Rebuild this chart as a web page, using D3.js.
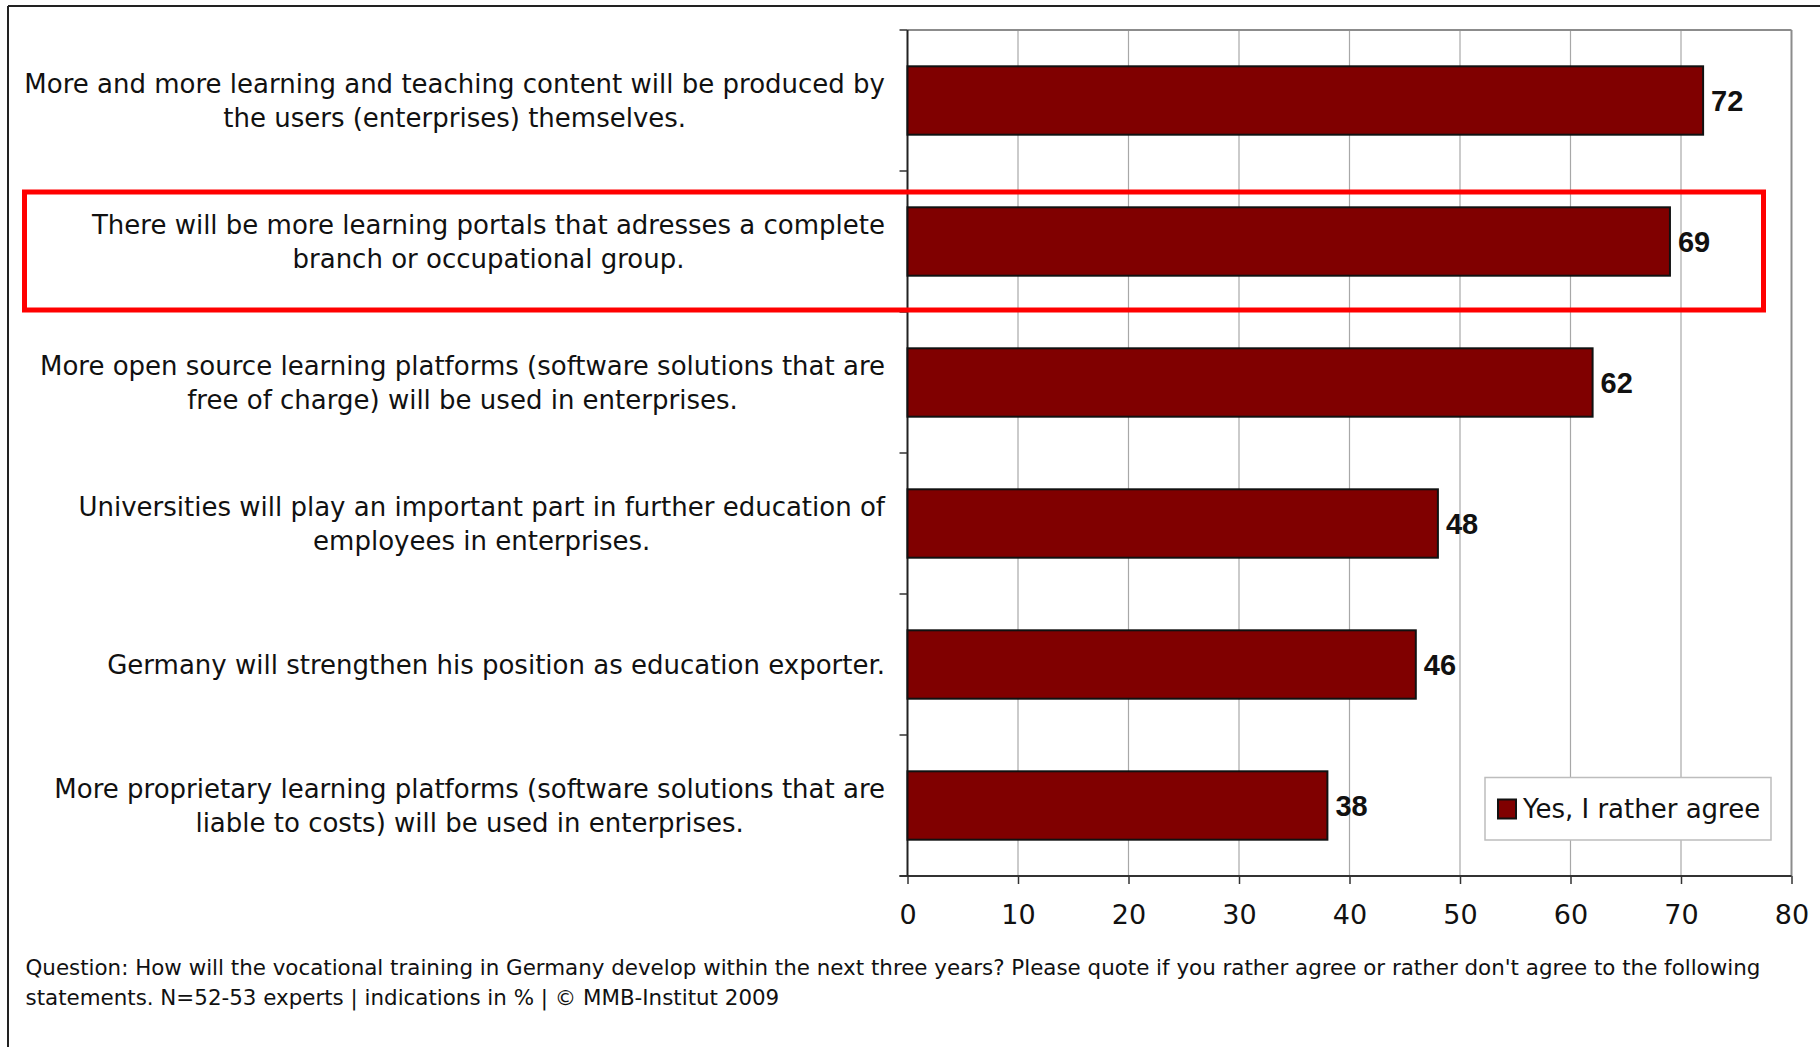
<!DOCTYPE html>
<html>
<head>
<meta charset="utf-8">
<script src="https://cdn.jsdelivr.net/npm/d3@7"></script>
<style>
  html, body { margin: 0; padding: 0; background: #fff; }
  svg { display: block; }
  text { font-family: "DejaVu Sans", sans-serif; fill: #111; }
  text.val { font-family: "Liberation Sans", Arial, sans-serif; font-weight: bold; }
</style>
</head>
<body>
<svg id="chart" width="1820" height="1047"></svg>
<script>
const categories = [
  ["More and more learning and teaching content will be produced by", "the users (enterprises) themselves."],
  ["There will be more learning portals that adresses a complete", "branch or occupational group."],
  ["More open source learning platforms (software solutions that are", "free of charge) will be used in enterprises."],
  ["Universities will play an important part in further education of", "employees in enterprises."],
  ["Germany will strengthen his position as education exporter."],
  ["More proprietary learning platforms (software solutions that are", "liable to costs) will be used in enterprises."]
];
const values = [72, 69, 62, 48, 46, 38];
const seriesName = "Yes, I rather agree";
const xTicks = [0, 10, 20, 30, 40, 50, 60, 70, 80];
const footnote = [
  "Question: How will the vocational training in Germany develop within the next three years? Please quote if you rather agree or rather don't agree to the following",
  "statements. N=52-53 experts | indications in % | \u00A9 MMB-Institut 2009"
];

const svg = d3.select("#chart");
const plot = { left: 907.5, right: 1791.5, top: 30, bottom: 876 };

const x = d3.scaleLinear().domain([0, 80]).range([plot.left, plot.right]);
const y = d3.scaleBand().domain(d3.range(categories.length)).range([plot.top, plot.bottom]).paddingInner(0.515).paddingOuter(0.2575);
const yOuter = d3.scaleBand().domain(d3.range(categories.length)).range([plot.top, plot.bottom]);

// outer frame
svg.append("line").attr("x1", 8).attr("x2", 1820).attr("y1", 6).attr("y2", 6).attr("stroke", "#222").attr("stroke-width", 2);
svg.append("line").attr("x1", 8).attr("x2", 8).attr("y1", 6).attr("y2", 1047).attr("stroke", "#222").attr("stroke-width", 2);

// gridlines
svg.append("g").selectAll("line").data(xTicks.slice(1, -1)).join("line")
  .attr("x1", d => x(d)).attr("x2", d => x(d))
  .attr("y1", plot.top).attr("y2", plot.bottom)
  .attr("stroke", "#a8a8a8").attr("stroke-width", 1.2);

// plot border top & right
svg.append("line").attr("x1", plot.left).attr("x2", plot.right).attr("y1", plot.top).attr("y2", plot.top).attr("stroke", "#8c8c8c").attr("stroke-width", 2);
svg.append("line").attr("x1", plot.right).attr("x2", plot.right).attr("y1", plot.top).attr("y2", plot.bottom).attr("stroke", "#8c8c8c").attr("stroke-width", 2);

// x axis
const xAxis = d3.axisBottom(x).tickValues(xTicks).tickSize(8).tickPadding(21);
const gx = svg.append("g").attr("transform", `translate(0,${plot.bottom})`).call(xAxis);
gx.select(".domain").attr("stroke", "#333").attr("stroke-width", 2).attr("d", `M${plot.left - 8},0H${plot.right}`);
gx.selectAll(".tick line").attr("stroke", "#333").attr("stroke-width", 1.5);
gx.selectAll(".tick text").attr("font-size", 27).attr("fill", "#111").attr("dy", "0.71em");

// y axis line and category ticks
svg.append("line").attr("x1", plot.left).attr("x2", plot.left).attr("y1", plot.top).attr("y2", plot.bottom).attr("stroke", "#222").attr("stroke-width", 2);
svg.append("g").selectAll("line").data(d3.range(categories.length + 1)).join("line")
  .attr("x1", plot.left - 8).attr("x2", plot.left)
  .attr("y1", d => d < categories.length ? yOuter(d) : plot.bottom)
  .attr("y2", d => d < categories.length ? yOuter(d) : plot.bottom)
  .attr("stroke", "#333").attr("stroke-width", 1.5);

// bars
svg.append("g").selectAll("rect").data(values).join("rect")
  .attr("x", x(0))
  .attr("y", (d, i) => y(i))
  .attr("width", d => x(d) - x(0))
  .attr("height", y.bandwidth())
  .attr("fill", "#800000")
  .attr("stroke", "#111").attr("stroke-width", 2);

// value labels
svg.append("g").selectAll("text").data(values).join("text")
  .attr("class", "val")
  .attr("x", d => x(d) + 8)
  .attr("y", (d, i) => y(i) + y.bandwidth() / 2)
  .attr("dy", "0.36em")
  .attr("font-size", 29)
  .text(d => d);

// category labels: lines centered within a right-aligned block
const labelRight = 885;
const lineH = 34.5;
const catG = svg.append("g");
categories.forEach((lines, i) => {
  const cy = yOuter(i) + yOuter.bandwidth() / 2;
  const g = catG.append("g");
  const texts = lines.map((ln, j) => g.append("text")
    .attr("font-size", 26)
    .attr("y", cy + (j - (lines.length - 1) / 2) * lineH)
    .attr("dy", "0.36em")
    .text(ln));
  const widths = texts.map(t => t.node().getComputedTextLength());
  const maxW = d3.max(widths);
  const center = labelRight - maxW / 2;
  texts.forEach(t => t.attr("x", center).attr("text-anchor", "middle"));
});

// highlight box
svg.append("rect")
  .attr("x", 24.5).attr("y", 192).attr("width", 1739).attr("height", 118)
  .attr("fill", "none").attr("stroke", "#ff0000").attr("stroke-width", 5);

// legend
const lg = svg.append("g");
lg.append("rect").attr("x", 1485).attr("y", 777.5).attr("width", 286).attr("height", 62.5)
  .attr("fill", "#fff").attr("stroke", "#bdbdbd").attr("stroke-width", 1.5);
lg.append("rect").attr("x", 1498).attr("y", 799.5).attr("width", 18).attr("height", 19)
  .attr("fill", "#800000").attr("stroke", "#111").attr("stroke-width", 2);
lg.append("text").attr("x", 1523).attr("y", 809).attr("dy", "0.36em").attr("font-size", 26).text(seriesName);

// footnote
svg.append("g").selectAll("text").data(footnote).join("text")
  .attr("x", 25.5).attr("y", (d, i) => 967 + i * 30).attr("dy", "0.36em")
  .attr("font-size", 21.4).text(d => d);
</script>
</body>
</html>
